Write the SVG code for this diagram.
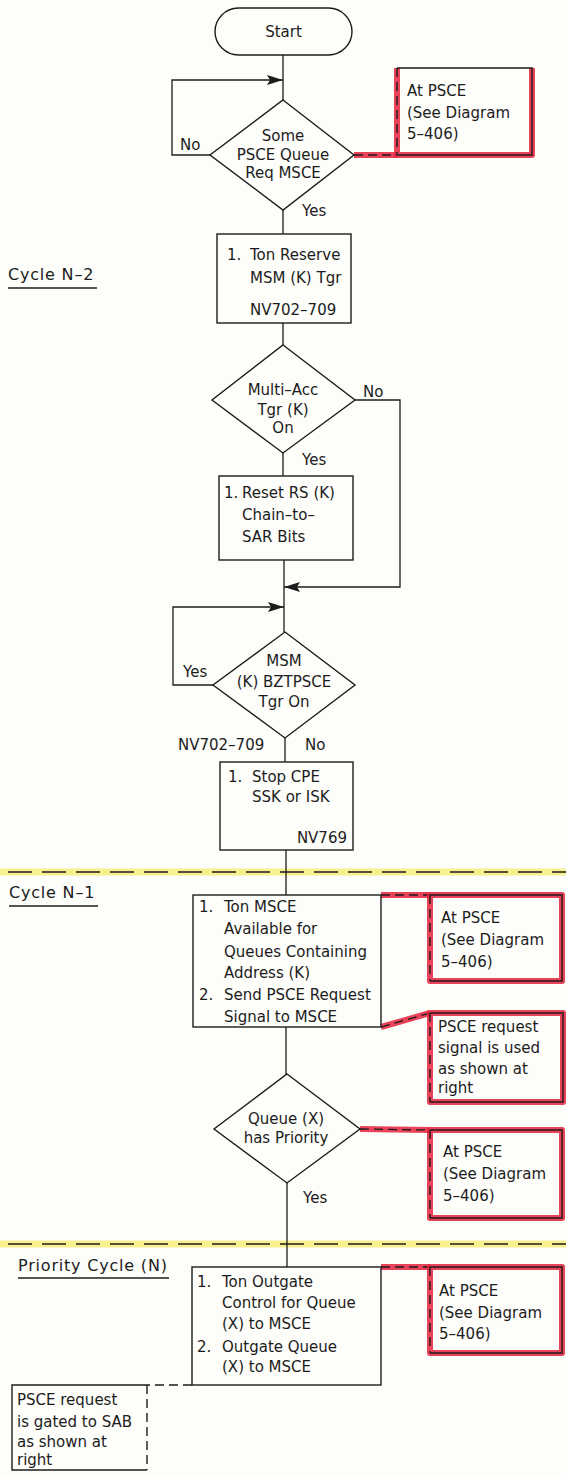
<svg xmlns="http://www.w3.org/2000/svg" width="566" height="1477" viewBox="0 0 566 1477">
  <defs>
    <style>
      .ln { fill: none; stroke: #1c1c1c; stroke-width: 1.3; }
      .box { fill: none; stroke: #1c1c1c; stroke-width: 1.4; }
      .dash { stroke-dasharray: 9 5; }
      .hl { fill: none; stroke: #e5213c; stroke-width: 6; stroke-opacity: 0.85; stroke-linejoin: round; }
      .sep-band { fill: none; stroke: #f8f08f; stroke-width: 7; }
      .sep-dash { fill: none; stroke: #1c1c1c; stroke-width: 1.3; stroke-dasharray: 24 10; }
      .t { font-family: "DejaVu Sans", "Liberation Sans", sans-serif; font-size: 15px; fill: #1c1c1c; }
      .c { text-anchor: middle; }
      .e { text-anchor: end; }
      .sec { font-size: 16px; letter-spacing: 0.8px; }
    </style>
    <marker id="ah" viewBox="0 0 16 10" markerWidth="16" markerHeight="10" refX="16" refY="5" orient="auto" markerUnits="userSpaceOnUse">
      <path d="M0,0 L16,5 L0,10 L3,5 z" fill="#1c1c1c"/>
    </marker>
  </defs>

  <rect x="0" y="0" width="566" height="1477" fill="#fdfdfa"/>

  <!-- cycle separators -->
  <g id="separators">
    <line class="sep-band" x1="0" y1="872" x2="566" y2="872"/>
    <line class="sep-dash" x1="8" y1="872" x2="566" y2="872"/>
    <line class="sep-band" x1="0" y1="1244" x2="566" y2="1244"/>
    <line class="sep-dash" x1="8" y1="1244" x2="566" y2="1244"/>
  </g>

  <!-- cycle labels -->
  <g id="label-n2">
    <text class="t sec" x="8" y="280">Cycle N–2</text>
    <line class="ln" x1="8" y1="288" x2="97" y2="288"/>
  </g>
  <g id="label-n1">
    <text class="t sec" x="9" y="898">Cycle N–1</text>
    <line class="ln" x1="9" y1="906" x2="98" y2="906"/>
  </g>
  <g id="label-n">
    <text class="t sec" x="18" y="1271">Priority Cycle (N)</text>
    <line class="ln" x1="18" y1="1278" x2="169" y2="1278"/>
  </g>

  <!-- connectors -->
  <g id="connectors">
    <path class="ln" d="M283,55 V100"/>
    <path class="ln" d="M210,155 H172 V80 H283" marker-end="url(#ah)"/>
    <path class="ln" d="M283,210 V234"/>
    <path class="ln" d="M283,323 V345"/>
    <path class="ln" d="M283,453 V476"/>
    <path class="ln" d="M355,400 H400 V587 H284" marker-end="url(#ah)"/>
    <path class="ln" d="M284,560 V632"/>
    <path class="ln" d="M213,685 H173 V607 H284" marker-end="url(#ah)"/>
    <path class="ln" d="M285,738 V762"/>
    <path class="ln" d="M286,850 V895"/>
    <path class="ln" d="M286,1027 V1074"/>
    <path class="ln" d="M287,1183 V1267"/>
    <path class="ln dash" d="M192,1385 H147"/>
    <!-- links to the PSCE notes -->
    <path class="hl" d="M354,155 H397"/>
    <path class="ln dash" d="M354,155 H397"/>
    <path class="hl" d="M381,895 H430"/>
    <path class="ln dash" d="M381,895 H430"/>
    <path class="hl" d="M381,1027 L430,1013"/>
    <path class="ln dash" d="M381,1027 L430,1013"/>
    <path class="hl" d="M360,1129 L430,1130"/>
    <path class="ln dash" d="M360,1129 L430,1130"/>
    <path class="hl" d="M381,1267 H430"/>
    <path class="ln dash" d="M381,1267 H430"/>
  </g>

  <!-- flow nodes -->
  <g id="start">
    <rect class="box" x="215" y="8" width="137" height="47" rx="23.5"/>
    <text class="t c" x="283.5" y="37">Start</text>
  </g>

  <g id="dec-queue-req">
    <polygon class="box" points="283,100 354,155 283,210 210,155"/>
    <text class="t c" x="283" y="141">Some</text>
    <text class="t c" x="283" y="160">PSCE Queue</text>
    <text class="t c" x="283" y="178">Req MSCE</text>
    <text class="t" x="180" y="150">No</text>
    <text class="t" x="302" y="216">Yes</text>
  </g>

  <g id="note-psce-1">
    <path class="hl" d="M397,68 V155 H532 V68"/>
    <path class="box" d="M397,68 H532 V155 H397"/>
    <path class="box dash" d="M397,68 V155"/>
    <text class="t" x="407" y="96">At PSCE</text>
    <text class="t" x="407" y="118">(See Diagram</text>
    <text class="t" x="407" y="139">5–406)</text>
  </g>

  <g id="proc-reserve">
    <rect class="box" x="217" y="234" width="134" height="89"/>
    <text class="t" x="227" y="260">1.</text>
    <text class="t" x="250" y="260">Ton Reserve</text>
    <text class="t" x="250" y="283">MSM (K) Tgr</text>
    <text class="t" x="250" y="315">NV702–709</text>
  </g>

  <g id="dec-multi-acc">
    <polygon class="box" points="283,345 355,400 283,453 212,400"/>
    <text class="t c" x="283" y="395">Multi–Acc</text>
    <text class="t c" x="283" y="415">Tgr (K)</text>
    <text class="t c" x="283" y="433">On</text>
    <text class="t" x="363" y="397">No</text>
    <text class="t" x="302" y="465">Yes</text>
  </g>

  <g id="proc-reset">
    <rect class="box" x="219" y="476" width="134" height="84"/>
    <text class="t" x="224" y="498">1.</text>
    <text class="t" x="242" y="498">Reset RS (K)</text>
    <text class="t" x="242" y="520">Chain–to–</text>
    <text class="t" x="242" y="542">SAR Bits</text>
  </g>

  <g id="dec-bztpsce">
    <polygon class="box" points="285,632 355,685 285,738 213,685"/>
    <text class="t c" x="284" y="666">MSM</text>
    <text class="t c" x="284" y="687">(K) BZTPSCE</text>
    <text class="t c" x="284" y="707">Tgr On</text>
    <text class="t" x="183" y="677">Yes</text>
    <text class="t" x="178" y="750">NV702–709</text>
    <text class="t" x="305" y="750">No</text>
  </g>

  <g id="proc-stop">
    <rect class="box" x="220" y="762" width="133" height="88"/>
    <text class="t" x="228" y="782">1.</text>
    <text class="t" x="252" y="782">Stop CPE</text>
    <text class="t" x="252" y="802">SSK or ISK</text>
    <text class="t e" x="347" y="843">NV769</text>
  </g>

  <g id="proc-available">
    <rect class="box" x="193" y="895" width="188" height="132"/>
    <text class="t" x="199" y="912">1.</text>
    <text class="t" x="224" y="912">Ton MSCE</text>
    <text class="t" x="224" y="934">Available for</text>
    <text class="t" x="224" y="957">Queues Containing</text>
    <text class="t" x="224" y="978">Address (K)</text>
    <text class="t" x="199" y="1000">2.</text>
    <text class="t" x="224" y="1000">Send PSCE Request</text>
    <text class="t" x="224" y="1022">Signal to MSCE</text>
  </g>

  <g id="note-psce-2">
    <path class="hl" d="M430,895 H562 V981 H430 Z"/>
    <path class="box" d="M430,895 H562 V981 H430"/>
    <path class="box dash" d="M430,895 V981"/>
    <text class="t" x="441" y="923">At PSCE</text>
    <text class="t" x="441" y="945">(See Diagram</text>
    <text class="t" x="441" y="967">5–406)</text>
  </g>

  <g id="note-request-signal">
    <path class="hl" d="M430,1013 H563 V1102 H430 Z"/>
    <path class="box" d="M430,1013 H563 V1102 H430"/>
    <path class="box dash" d="M430,1013 V1102"/>
    <text class="t" x="438" y="1032">PSCE request</text>
    <text class="t" x="438" y="1053">signal is used</text>
    <text class="t" x="438" y="1074">as shown at</text>
    <text class="t" x="438" y="1093">right</text>
  </g>

  <g id="dec-priority">
    <polygon class="box" points="287,1074 360,1129 287,1183 214,1129"/>
    <text class="t c" x="286" y="1124">Queue (X)</text>
    <text class="t c" x="286" y="1143">has Priority</text>
    <text class="t" x="303" y="1203">Yes</text>
  </g>

  <g id="note-psce-3">
    <path class="hl" d="M430,1130 H562 V1218 H430 Z"/>
    <path class="box" d="M430,1130 H562 V1218 H430"/>
    <path class="box dash" d="M430,1130 V1218"/>
    <text class="t" x="443" y="1157">At PSCE</text>
    <text class="t" x="443" y="1179">(See Diagram</text>
    <text class="t" x="443" y="1201">5–406)</text>
  </g>

  <g id="proc-outgate">
    <rect class="box" x="192" y="1267" width="189" height="118"/>
    <text class="t" x="197" y="1287">1.</text>
    <text class="t" x="222" y="1287">Ton Outgate</text>
    <text class="t" x="222" y="1308">Control for Queue</text>
    <text class="t" x="222" y="1329">(X) to MSCE</text>
    <text class="t" x="197" y="1352">2.</text>
    <text class="t" x="222" y="1352">Outgate Queue</text>
    <text class="t" x="222" y="1372">(X) to MSCE</text>
  </g>

  <g id="note-psce-4">
    <path class="hl" d="M430,1267 H562 V1353 H430 Z"/>
    <path class="box" d="M430,1267 H562 V1353 H430"/>
    <path class="box dash" d="M430,1267 V1353"/>
    <text class="t" x="439" y="1296">At PSCE</text>
    <text class="t" x="439" y="1318">(See Diagram</text>
    <text class="t" x="439" y="1339">5–406)</text>
  </g>

  <g id="note-gated-sab">
    <path class="box" d="M147,1385 H12 V1470 H147"/>
    <path class="box dash" d="M147,1385 V1470"/>
    <text class="t" x="17" y="1405">PSCE request</text>
    <text class="t" x="17" y="1427">is gated to SAB</text>
    <text class="t" x="17" y="1447">as shown at</text>
    <text class="t" x="17" y="1465">right</text>
  </g>
</svg>
